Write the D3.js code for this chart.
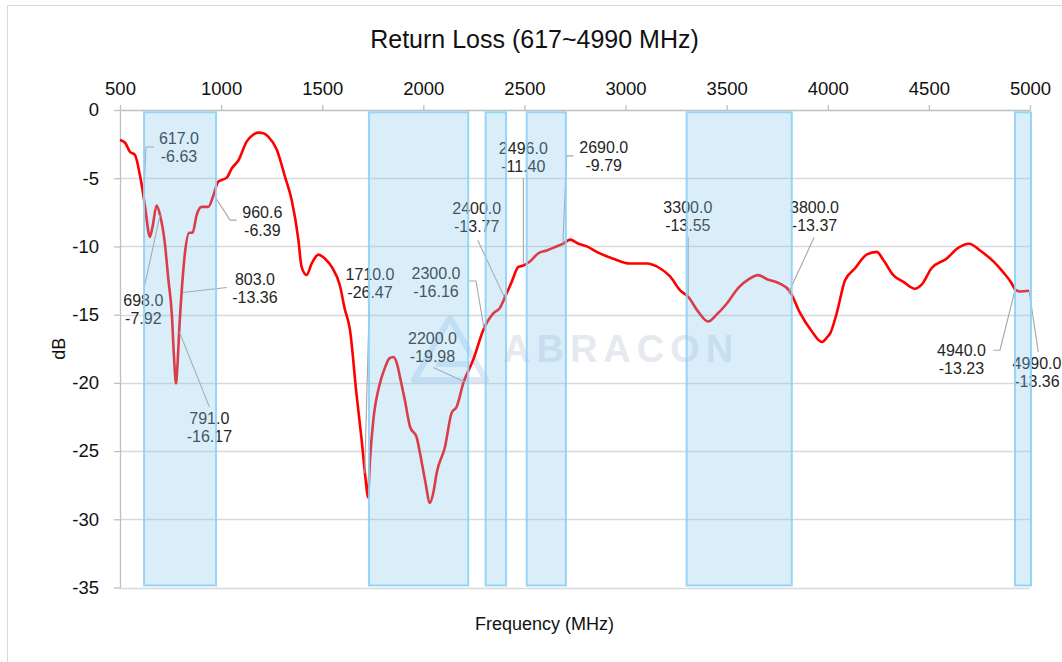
<!DOCTYPE html>
<html>
<head>
<meta charset="utf-8">
<script src="https://cdn.jsdelivr.net/npm/d3@7"></script>
<style>
  html, body { margin: 0; padding: 0; background: #fff; }
  svg { display: block; font-family: "Liberation Sans", Arial, sans-serif; }
</style>
</head>
<body>
<svg id="chart" width="1062" height="662"></svg>
<script>
// ---------------- data ----------------
const freqMHz = [500,525,549,574,595,612,624,648,661,681,698,722,739,756,767,777,785,793,805,821,843,859,879,904,937,961,986,1028,1052,1085,1127,1155,1184,1210,1233,1275,1316,1349,1382,1398,1423,1448,1481,1514,1547,1588,1610,1637,1670,1695,1711,1720,1726,1736,1753,1786,1810,1832,1852,1870,1885,1909,1934,1967,1984,2008,2033,2050,2066,2107,2140,2165,2198,2247,2297,2346,2379,2404,2437,2470,2495,2527,2569,2610,2659,2692,2725,2767,2808,2857,2939,3022,3104,3170,3220,3269,3310,3360,3408,3450,3500,3560,3610,3655,3700,3760,3813,3860,3920,3971,4000,4011,4044,4085,4135,4192,4242,4275,4324,4374,4431,4464,4513,4587,4645,4700,4753,4819,4868,4909,4926,4950,4996];
const returnLossDB = [-2.2,-2.4,-3.06,-3.3,-4.5,-5.9,-7.1,-9.3,-8.55,-7.0,-7.7,-9.8,-12.4,-14.9,-18.1,-20.05,-18.5,-16.1,-13.3,-10.5,-9.0,-9.0,-7.7,-7.1,-7.1,-6.3,-5.25,-4.96,-4.3,-3.7,-2.3,-1.85,-1.66,-1.7,-1.95,-2.9,-4.9,-6.6,-9.5,-11.5,-12.1,-11.25,-10.6,-10.9,-11.5,-12.9,-14.5,-16.1,-20.9,-24.2,-26.6,-27.8,-28.4,-25.7,-22.7,-20.0,-18.9,-18.2,-18.1,-18.6,-19.6,-21.3,-23.2,-24.0,-25.2,-27.1,-28.8,-28.0,-26.6,-24.7,-22.2,-21.75,-20.0,-18.3,-16.1,-14.9,-14.5,-13.7,-12.6,-11.5,-11.4,-11.1,-10.5,-10.3,-10.0,-9.8,-9.5,-9.8,-10.0,-10.4,-10.9,-11.25,-11.25,-11.6,-12.2,-13.2,-13.7,-14.8,-15.5,-15.0,-14.2,-13.0,-12.4,-12.1,-12.4,-12.7,-13.3,-14.8,-16.2,-17.0,-16.6,-16.4,-14.9,-12.5,-11.6,-10.6,-10.4,-11.0,-12.1,-12.6,-13.1,-12.8,-11.6,-10.9,-10.1,-9.8,-10.3,-11.1,-11.9,-12.7,-13.15,-13.3,-13.25];

const bandStartMHz = [619, 1731, 2308, 2511, 3302, 4926];
const bandEndMHz   = [975, 2222, 2409, 2705, 3822, 5005];

const markerFreq = [617.0, 698.0, 803.0, 791.0, 960.6, 1710.0, 2300.0, 2200.0, 2400.0, 2496.0, 2690.0, 3300.0, 3800.0, 4940.0, 4990.0];
const markerDB   = [-6.63, -7.92, -13.36, -16.17, -6.39, -26.47, -16.16, -19.98, -13.77, -11.40, -9.79, -13.55, -13.37, -13.23, -13.36];

const xTicks = [500,1000,1500,2000,2500,3000,3500,4000,4500,5000];
const yTicks = [0,-5,-10,-15,-20,-25,-30,-35];

const titleText = "Return Loss (617~4990 MHz)";
const xTitle = "Frequency (MHz)";
const yTitle = "dB";
const watermarkText = "ABRACON";

// ---------------- layout (label offsets from their point, px) ----------------
const labelLayout = [
  {dx: 35.3, dy: -56.4, leader: [[10.3,-53.4],[2.3,-53.4],[0,0]]},
  {dx: -16.7, dy: 88, leader: [[-15.7,68.8],[0,-3]]},
  {dx: 73.7, dy: -7, leader: [[45.4,-4.8],[1.4,0.2]]},
  {dx: 30.5, dy: 93.6, leader: [[30.5,76.3],[0.5,1.3]]},
  {dx: 49.2, dy: 21.2, leader: [[23.6,22.9],[16.9,22.9],[1.9,-0.4]]},
  {dx: 5.3, dy: -190.75, leader: [[4.6,-167.7],[0,2]]},
  {dx: -48, dy: -51.9, leader: [[-15.7,-49.5],[-8,-49.5],[0,-2]]},
  {dx: -31.3, dy: -39, leader: [[-30.5,-15],[1.2,-0.6]]},
  {dx: -27.5, dy: -83.4, leader: [[-26.5,-57.7],[0,-1]]},
  {dx: -0.3, dy: -112, leader: [[-0.3,-87.7],[-0.3,-2]]},
  {dx: 40.9, dy: -90.7, leader: [[10.4,-87.7],[3.8,-87.7],[0,0]]},
  {dx: 1.6, dy: -81.4, leader: [[2,-58],[2,0]]},
  {dx: 27.2, dy: -79.2, leader: [[26.7,-54.9],[1,1]]},
  {dx: -56.4, dy: 65.4, leader: [[-24.6,59.7],[-17.9,59.7],[-2.9,-0.3]]},
  {dx: 9.0, dy: 77.2, leader: [[10.3,59.6],[1.3,-0.4]]}
];

// ---------------- chart ----------------
const svg = d3.select("#chart");
const plot = {left: 120, right: 1030, top: 110, bottom: 587.5};

const x = d3.scaleLinear().domain([500, 5000]).range([plot.left, plot.right]);
const y = d3.scaleLinear().domain([0, -35]).range([plot.top, plot.bottom]);

// outer border
svg.append("rect").attr("x", 7.5).attr("y", 5.5).attr("width", 1100).attr("height", 700)
  .attr("fill", "#fff").attr("stroke", "#d9d9d9").attr("stroke-width", 1);

// watermark (faint logo + name)
const wm = svg.append("g");
const lx = 450, ly = 380;
wm.append("path")
  .attr("d", `M${lx-36},${ly} L${lx},${ly-62} L${lx+36},${ly} Z M${lx-14},${ly-16} L${lx+22},${ly-16}`)
  .attr("fill", "none").attr("stroke", "#dde8f6").attr("stroke-width", 6).attr("stroke-linejoin", "round");
wm.append("text").attr("x", 503).attr("y", 362)
  .attr("font-size", 38).attr("font-weight", "bold").attr("fill", "#e6e9f0")
  .attr("letter-spacing", 6).text(watermarkText);

// gridlines
svg.append("g").selectAll("line").data(yTicks.filter(d => d !== 0)).join("line")
  .attr("x1", plot.left).attr("x2", plot.right)
  .attr("y1", d => Math.round(y(d)) + 0.5).attr("y2", d => Math.round(y(d)) + 0.5)
  .attr("stroke", "#d9d9d9").attr("stroke-width", 1.3);

// axes
const fmt = d => String(d);
const xAxis = d3.axisTop(x).tickValues(xTicks).tickFormat(fmt).tickSize(5).tickSizeOuter(0).tickPadding(10);
const gx = svg.append("g").attr("transform", `translate(0,${plot.top})`).call(xAxis);
gx.select(".domain").attr("stroke", "#bfbfbf").attr("stroke-width", 1.3);
gx.selectAll(".tick line").attr("stroke", "#bfbfbf").attr("stroke-width", 1.3);
gx.selectAll(".tick text").attr("font-size", 18.5).attr("fill", "#111")
  .attr("font-family", "'Liberation Sans', Arial, sans-serif");

const yAxis = d3.axisLeft(y).tickValues(yTicks).tickFormat(fmt).tickSize(6).tickSizeOuter(0).tickPadding(15);
const gy = svg.append("g").attr("transform", `translate(${plot.left},0)`).call(yAxis);
gy.select(".domain").attr("stroke", "#bfbfbf").attr("stroke-width", 1.3);
gy.selectAll(".tick line").attr("stroke", "#bfbfbf").attr("stroke-width", 1.3);
gy.selectAll(".tick text").attr("font-size", 18.5).attr("fill", "#111")
  .attr("font-family", "'Liberation Sans', Arial, sans-serif");

// titles
svg.append("text").attr("x", 534.5).attr("y", 48).attr("text-anchor", "middle")
  .attr("font-size", 25).attr("fill", "#111").text(titleText);
svg.append("text").attr("x", 544.5).attr("y", 630).attr("text-anchor", "middle")
  .attr("font-size", 18).attr("fill", "#111").text(xTitle);
svg.append("text").attr("transform", `translate(65,${(plot.top + plot.bottom) / 2}) rotate(-90)`)
  .attr("text-anchor", "middle").attr("font-size", 18).attr("fill", "#111").text(yTitle);

// curve
const series = freqMHz.map((f, i) => ({f, v: returnLossDB[i]}));
const line = d3.line().x(d => x(d.f)).y(d => y(d.v)).curve(d3.curveMonotoneX);
svg.append("path").datum(series).attr("d", line)
  .attr("fill", "none").attr("stroke", "#ff0000").attr("stroke-width", 2.6)
  .attr("stroke-linejoin", "round");

// data labels
const labels = svg.append("g");
markerFreq.forEach((f, i) => {
  const px = x(f), py = y(markerDB[i]);
  const L = labelLayout[i];
  const pts = L.leader.map(p => [px + p[0], py + p[1]]);
  labels.append("path").attr("d", d3.line()(pts))
    .attr("fill", "none").attr("stroke", "#a6a6a6").attr("stroke-width", 1.1);
  const t = labels.append("text").attr("text-anchor", "middle")
    .attr("font-size", 16).attr("fill", "#262626");
  t.append("tspan").attr("x", px + L.dx).attr("y", py + L.dy).text(f.toFixed(1));
  t.append("tspan").attr("x", px + L.dx).attr("y", py + L.dy + 18).text(markerDB[i].toFixed(2));
});

// highlighted bands (drawn on top, semi-transparent)
svg.append("g").selectAll("rect").data(bandStartMHz.map((s, i) => ({s, e: bandEndMHz[i]}))).join("rect")
  .attr("x", d => x(d.s)).attr("width", d => x(d.e) - x(d.s))
  .attr("y", y(-0.17)).attr("height", y(-34.85) - y(-0.17))
  .attr("fill", "rgb(131,198,238)").attr("fill-opacity", 0.3)
  .attr("stroke", "rgb(140,210,245)").attr("stroke-width", 2).attr("stroke-opacity", 0.9);
</script>
</body>
</html>
